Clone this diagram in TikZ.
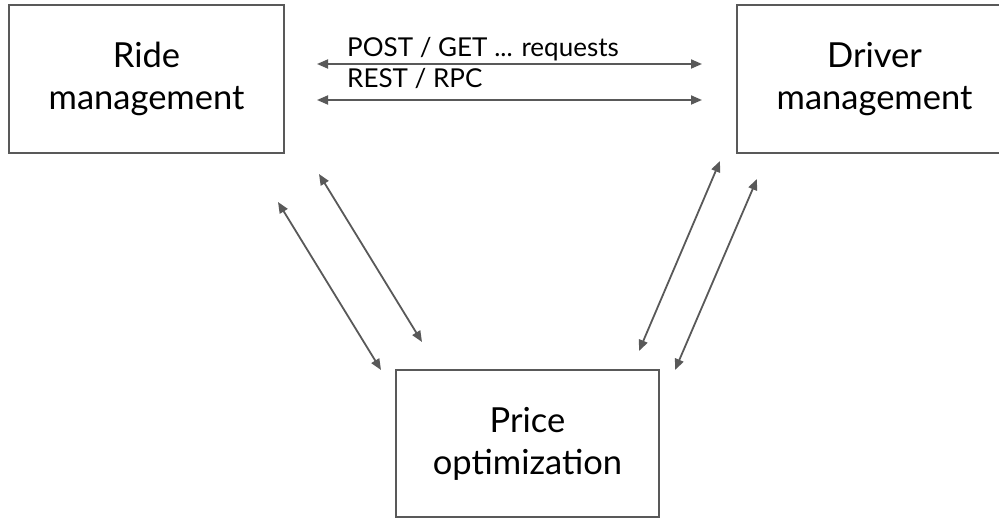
\documentclass[tikz,border=0pt]{standalone}
\usepackage{fontspec}
\setmainfont{Lato}
\usetikzlibrary{arrows.meta}
\definecolor{edge}{HTML}{595959}
\tikzset{
  svcbox/.style={draw=edge, line width=1.6pt, align=center, inner sep=0pt,
    font=\fontsize{34.5}{42}\selectfont},
  link/.style={draw=edge, line width=1.8pt,
    {Triangle[length=11pt,width=9pt]}-{Triangle[length=11pt,width=9pt]}},
  tag/.style={anchor=base west, inner sep=0pt, font=\fontsize{26}{30}\selectfont}
}
\begin{document}
\begin{tikzpicture}[x=1pt,y=-1pt]
  \useasboundingbox (0,0) rectangle (999,518);
  \begin{scope}
    \clip (0,0) rectangle (999,518);
    % services
    \node[svcbox, minimum width=275pt, minimum height=148pt] (ride) at (146.5,79) {Ride\\management};
    \node[svcbox, minimum width=275pt, minimum height=148pt] (driver) at (874.5,79) {Driver\\management};
    \node[svcbox, minimum width=263pt, minimum height=147pt] (price) at (527.5,443.5) {Price\\optimization};
  \end{scope}
  % arrow end points
  \coordinate (h1a) at (317,64);  \coordinate (h1b) at (702,64);
  \coordinate (h2a) at (317,100); \coordinate (h2b) at (702,100);
  \coordinate (l1a) at (278,202); \coordinate (l1b) at (381,370);
  \coordinate (l2a) at (319,174); \coordinate (l2b) at (422,342);
  \coordinate (r1a) at (720,161); \coordinate (r1b) at (639,351);
  \coordinate (r2a) at (757,179); \coordinate (r2b) at (675,370);
  % connectors
  \draw[link] (h1a) -- (h1b);
  \draw[link] (h2a) -- (h2b);
  \draw[link] (l1a) -- (l1b);
  \draw[link] (l2a) -- (l2b);
  \draw[link] (r1a) -- (r1b);
  \draw[link] (r2a) -- (r2b);
  % protocol labels
  \node[tag] (t1) at (347,57) {POST / GET ... requests};
  \node[tag] (t2) at (347,88) {REST / RPC};
\end{tikzpicture}
\end{document}
